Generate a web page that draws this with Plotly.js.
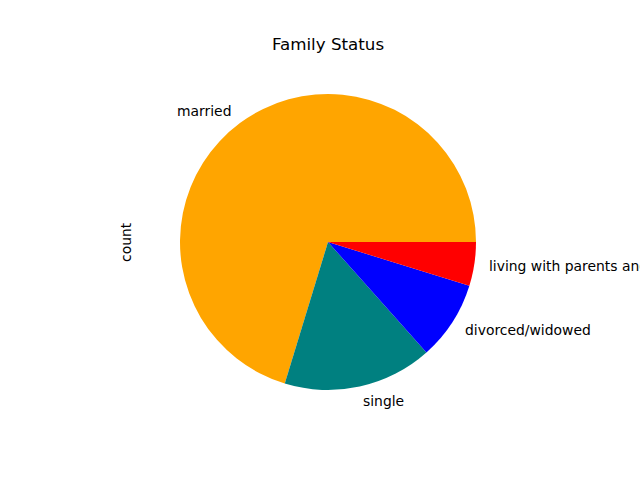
<!DOCTYPE html>
<html>
<head>
<meta charset="utf-8">
<script src="https://cdn.plot.ly/plotly-3.0.1.min.js"></script>
<style>html,body{margin:0;padding:0;background:#fff;}#chart{width:640px;height:480px;}</style>
</head>
<body>
<div id="chart"></div>
<script>
var categories = ["married", "single", "divorced/widowed", "living with parents and ..."];
var labelTexts = ["married", "single", "divorced/widowed", "living with parents and spouse"];
var counts = [7029, 1630, 864, 478];
var colors = ["#FFA500", "#008080", "#0000FF", "#FF0000"];

var total = counts.reduce(function(a, b){ return a + b; }, 0);
var annotations = [];
var start = 0;
for (var i = 0; i < counts.length; i++) {
  var frac = counts[i] / total;
  var mid = (start + frac / 2) * 2 * Math.PI;
  start += frac;
  var cx = 0.5 + 0.55 * Math.cos(mid);
  var cy = 0.5 + 0.55 * Math.sin(mid);
  annotations.push({
    text: labelTexts[i], x: cx, y: cy, xref: "paper", yref: "paper",
    xanchor: Math.cos(mid) >= 0 ? "left" : "right", yanchor: "middle",
    borderpad: 0, borderwidth: 0,
    showarrow: false, font: {family: "DejaVu Sans", size: 13.9, color: "#000"}
  });
}
annotations.push({
  text: "count", x: (126 - 180) / 296, y: 0.5, xref: "paper", yref: "paper", showarrow: false,
  xanchor: "center", yanchor: "middle", borderpad: 0, borderwidth: 0,
  textangle: -90, font: {family: "DejaVu Sans", size: 13.9, color: "#000"}
});

// Plotly's counterclockwise layout places the first slice ending at `rotation`;
// shift so the first slice starts at 3 o'clock like matplotlib.
var rot = 90 - 360 * counts[0] / total;

var data = [{
  type: "pie",
  labels: categories,
  values: counts,
  sort: false,
  direction: "counterclockwise",
  rotation: rot,
  marker: {colors: colors, line: {width: 0}},
  textinfo: "none",
  hoverinfo: "label+value",
  showlegend: false
}];

var layout = {
  width: 640, height: 480,
  margin: {l: 180, r: 164, t: 94, b: 90},
  paper_bgcolor: "#fff",
  title: {text: "Family Status", x: 328 / 640, xanchor: "center", y: 1 - 44 / 480, yanchor: "middle",
    font: {family: "DejaVu Sans", size: 16.7, color: "#000"}},
  annotations: annotations,
  showlegend: false
};
Plotly.newPlot("chart", data, layout, {displayModeBar: false, staticPlot: true});
</script>
</body>
</html>
